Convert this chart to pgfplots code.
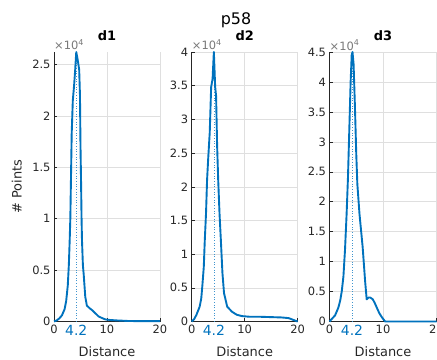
\documentclass[border=0pt]{standalone}
\usepackage{fontspec}
\setmainfont{DejaVu Sans}
\usepackage{pgfplots}
\pgfplotsset{compat=1.18}
\definecolor{mblue}{RGB}{0,114,189}
\definecolor{mgray}{RGB}{38,38,38}
\definecolor{ggray}{RGB}{223,223,223}
\definecolor{sgray}{RGB}{120,120,120}

\tikzset{
  sclabel/.style={anchor=base west, inner sep=0pt, yshift=2bp, font=\fontsize{11.5}{13}\selectfont, text=sgray},
}
\pgfplotsset{
  panel/.style={
    scale only axis, height=269.5bp, anchor=south west,
    xmin=0, xmax=20, ymin=0, clip=false,
    axis x line*=bottom, axis y line*=left,
    x axis line style={-}, y axis line style={-},
    axis line style={draw=mgray, line width=0.6pt},
    xtick={0,10,20}, xticklabels={0,10,20},
    grid=major, major grid style={draw=ggray, line width=0.5pt},
    tick align=inside, major tick length=3bp,
    tick style={draw=mgray, line width=0.5pt},
    ticklabel style={font=\fontsize{11.5}{13}\selectfont, text=mgray},
    scaled y ticks=false,
    extra x ticks={4.2}, extra x tick labels={4.2},
    extra x tick style={grid=none, major tick length=0pt, tick label style={font=\fontsize{14}{16}\selectfont, text=mblue}},
    xlabel={Distance},
    xlabel style={font=\fontsize{13}{15}\selectfont, text=mgray, at={(axis description cs:0.5,0)}, anchor=base, yshift=-34.5bp},
    title style={font=\bfseries\fontsize{13}{15}\selectfont, at={(axis description cs:0.5,1)}, anchor=base, yshift=6bp},
  },
  curve/.style={mblue, line width=1.9pt, line join=round},
  mark42/.style={mblue!75, dotted, line width=0.7pt},
}

\begin{document}
\begin{tikzpicture}
\path[use as bounding box] (0,0) rectangle (437bp,360bp);

\node[anchor=base, font=\fontsize{16}{18}\selectfont] at (236bp,335bp) {p58};

\begin{axis}[panel, at={(54bp,38.5bp)}, width=106bp,
  ymax=26200, ytick={0,5000,...,25000}, yticklabels={0,0.5,1,1.5,2,2.5}, title={d1},
  ylabel={\# Points},
  ylabel style={font=\fontsize{13}{15}\selectfont, text=mgray, at={(rel axis cs:-0.27,0.5)}, anchor=south}]
\addplot[mark42] coordinates {(4.2,0) (4.2,26200)};
\addplot[curve] coordinates {
(0,0) (0.5,100) (1,300) (1.5,600) (2,1200) (2.3,2000) (2.6,3500) (2.8,5500)
(2.96,7900) (3.08,10000) (3.2,13800) (3.34,18300) (3.55,21500) (3.8,23000)
(4.0,24500) (4.2,26200) (4.45,25500) (4.75,24500) (4.9,22000) (5.0,17000)
(5.1,13800) (5.2,10000) (5.28,7900) (5.45,5500) (5.6,4600) (5.9,2400)
(6.2,1550) (6.7,1300) (7.2,1100) (7.8,800) (8.4,500) (9.0,350) (9.7,200)
(10.5,150) (12,100) (14,50) (17,30) (20,30)};
\node[sclabel] at (rel axis cs:0,1) {×10\textsuperscript{4}};
\end{axis}

\begin{axis}[panel, at={(191.7bp,38.5bp)}, width=106bp,
  ymax=40000, ytick={0,5000,...,40000}, yticklabels={0,0.5,1,1.5,2,2.5,3,3.5,4}, title={d2}]
\addplot[mark42] coordinates {(4.2,0) (4.2,40000)};
\addplot[curve] coordinates {
(0,0) (0.5,400) (0.9,1000) (1.5,2200) (1.8,3400) (2.0,5200) (2.28,8100)
(2.47,12100) (2.7,16000) (2.9,21000) (3.1,24000) (3.4,28000) (3.67,34800)
(3.94,36000) (4.18,40000) (4.43,34800) (4.6,33500) (4.8,26000) (5.0,21000)
(5.25,16000) (5.5,12100) (5.8,7200) (6.1,4200) (6.7,2200) (7.6,1450)
(8.5,1000) (9.5,800) (11,700) (13,700) (15,650) (17,600) (18.3,500)
(19.3,200) (20,0)};
\node[sclabel] at (rel axis cs:0,1) {×10\textsuperscript{4}};
\end{axis}

\begin{axis}[panel, at={(329.5bp,38.5bp)}, width=107bp,
  ymax=45000, ytick={0,5000,...,45000}, yticklabels={0,0.5,1,1.5,2,2.5,3,3.5,4,4.5}, title={d3}]
\addplot[mark42] coordinates {(4.2,0) (4.2,45000)};
\addplot[curve] coordinates {
(0,0) (0.5,500) (1.03,1000) (1.65,2300) (2.0,3500) (2.3,5100) (2.6,7500)
(2.9,12000) (3.2,18000) (3.45,24000) (3.7,32000) (3.95,40000) (4.15,44500)
(4.3,45000) (4.5,43000) (4.75,36000) (5.0,28000) (5.2,23000) (5.6,18000)
(6.2,12400) (6.65,6800) (6.95,3700)
(7.3,4000) (7.6,4000) (8.1,3700) (8.5,3000) (8.85,2300) (9.3,1400)
(9.8,700) (10.4,0) (20,0)};
\node[sclabel] at (rel axis cs:0,1) {×10\textsuperscript{4}};
\end{axis}
\end{tikzpicture}
\end{document}
